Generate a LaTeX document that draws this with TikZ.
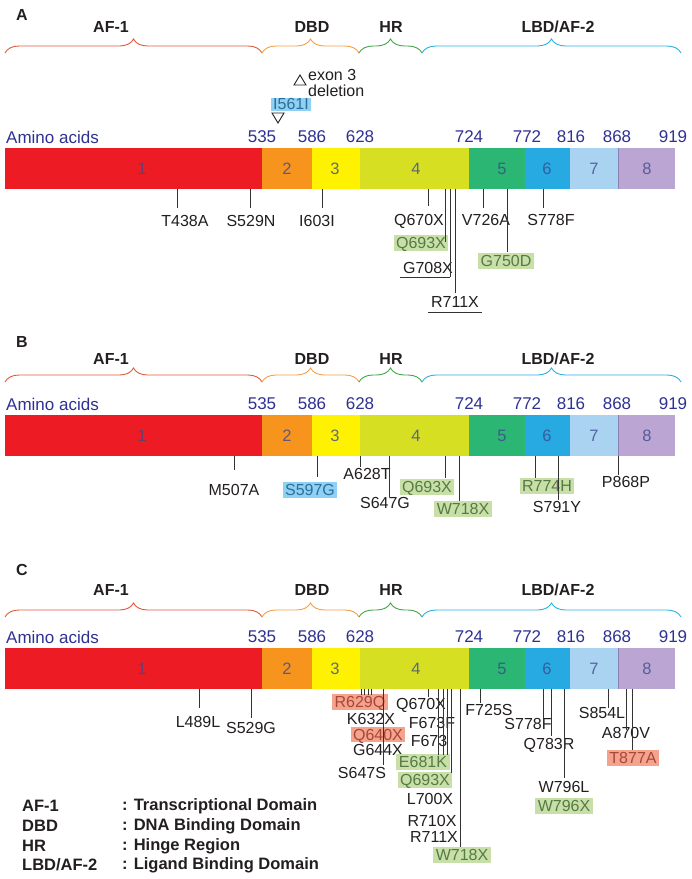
\documentclass[tikz,border=0pt]{standalone}
\usepackage{fontspec}
\setmainfont{Liberation Sans}
\usetikzlibrary{decorations.pathreplacing}
\definecolor{e1}{HTML}{ED1C24}
\definecolor{e2}{HTML}{F7941D}
\definecolor{e3}{HTML}{FFF200}
\definecolor{e4}{HTML}{D7DF23}
\definecolor{e5}{HTML}{2BB673}
\definecolor{e6}{HTML}{27AAE1}
\definecolor{e7}{HTML}{A9D3F1}
\definecolor{e8}{HTML}{BBA6D3}
\definecolor{e8line}{HTML}{8C80B8}
\definecolor{navy}{HTML}{2E3192}
\definecolor{segtxt}{HTML}{3C4A8C}
\definecolor{txt}{HTML}{231F20}
\definecolor{tickc}{HTML}{333333}
\definecolor{gfill}{HTML}{C8E0A8}
\definecolor{gtext}{HTML}{557A45}
\definecolor{bfill}{HTML}{8FD1F2}
\definecolor{btext}{HTML}{2B6E9C}
\definecolor{rfill}{HTML}{F4A38D}
\definecolor{rtext}{HTML}{A8463A}
\definecolor{bAF}{HTML}{E4593C}
\definecolor{bDBD}{HTML}{F4A146}
\definecolor{bHR}{HTML}{44A54A}
\definecolor{bLBD}{HTML}{2DB0E0}

\pgfdeclarelayer{fg}
\pgfsetlayers{main,fg}

\tikzset{
  lab/.style={font=\fontsize{16}{19}\selectfont, text=txt, inner xsep=2.5pt, inner ysep=2pt, text height=11.5pt, text depth=0.5pt},
  glab/.style={lab, fill=gfill, text=gtext},
  blab/.style={lab, fill=bfill, text=btext},
  rlab/.style={lab, fill=rfill, text=rtext},
  tick/.style={draw=tickc, line width=1pt},
  numlab/.style={font=\fontsize{17}{20}\selectfont, text=navy, inner sep=0pt},
  segnum/.style={font=\fontsize{16.5}{20}\selectfont, text=segtxt, text opacity=0.8, inner sep=0pt},
  ttl/.style={font=\bfseries\fontsize{16}{19}\selectfont, text=txt, inner sep=0pt},
  leg/.style={font=\bfseries\fontsize{16.5}{19}\selectfont, text=txt, inner sep=0pt},
  brc/.style={decorate, decoration={brace, amplitude=14pt}, line width=0.9pt},
  tri/.style={draw=txt, line width=0.9pt},
}

% name, bar bottom y, line x, line end y, style, label x, label y, text
\newcommand\mut[8]{%
  \node[#5] (#1) at (#6,#7) {#8};
  \coordinate (#1-s) at (#3,#2);
  \coordinate (#1-e) at (#3,#4);
  \begin{pgfonlayer}{fg}\draw[tick] (#1-s) -- (#1-e);\end{pgfonlayer}
}

\newcommand\protbar[2]{%
  \foreach \i/\xa/\xb/\lx in {1/5/262/142, 2/262/312/287, 3/312/360/335, 4/360/469/416, 5/469/525/502, 6/525/570/547, 7/570/618/594, 8/618/675/647}{
    \fill[e\i] (\xa,#2) rectangle (\xb,#2+41);
    \node[segnum] (#1seg\i) at (\lx,#2+20.5) {\i};
  }
  \draw[e8line, line width=0.7pt] (618,#2) -- (618,#2+41);
}

\newcommand\numrow[2]{%
  \node[numlab, anchor=west] (#1aa) at (6,#2) {Amino acids};
  \foreach \n/\xx in {535/262, 586/312, 628/360, 724/469, 772/527, 816/571, 868/617, 919/673}{
    \node[numlab] (#1n\n) at (\xx,#2) {\n};
  }
}

\newcommand\domains[3]{% prefix, title y, brace base y
  \node[ttl] (#1tAF) at (111,#2) {AF-1};
  \node[ttl] (#1tDBD) at (312,#2) {DBD};
  \node[ttl] (#1tHR) at (391,#2) {HR};
  \node[ttl] (#1tLBD) at (558,#2) {LBD/AF-2};
  \draw[brc, bAF] (5,#3) -- (262,#3);
  \draw[brc, bDBD] (262,#3) -- (359,#3);
  \draw[brc, bHR] (359,#3) -- (422,#3);
  \draw[brc, bLBD] (422,#3) -- (681,#3);
}

\begin{document}
\begin{tikzpicture}[x=1pt,y=-1pt]
\useasboundingbox (0,0) rectangle (692,879);
\fill[white] (0,0) rectangle (692,879);

% ---------------- Panel A ----------------
\node[ttl] (pA) at (22,15) {A};
\domains{a}{27}{53}
\draw[tri] (294,85) -- (306,85) -- (300,75) -- cycle;
\node[lab, anchor=west, inner sep=0pt] (aex1) at (308,74.5) {exon 3};
\node[lab, anchor=west, inner sep=0pt] (aex2) at (308,90.5) {deletion};
\node[blab, inner ysep=0.5pt] (aI561I) at (291,104) {I561I};
\draw[tri] (272,113) -- (284,113) -- (278,123) -- cycle;
\numrow{a}{137}
\protbar{a}{148}
\mut{aT438A}{189}{177}{208}{lab}{185}{221}{T438A}
\mut{aS529N}{189}{250}{208}{lab}{251}{221}{S529N}
\mut{aI603I}{189}{322}{208}{lab}{317}{221}{I603I}
\mut{aQ670X}{189}{428}{206}{lab}{419}{220}{Q670X}
\mut{aQ693X}{189}{445}{242}{glab}{421}{243}{Q693X}
\mut{aG708X}{189}{450}{277}{lab}{428}{268}{G708X}
\mut{aR711X}{189}{455}{293}{lab}{455}{302}{R711X}
\mut{aV726A}{189}{483}{208}{lab}{486}{220}{V726A}
\mut{aG750D}{189}{507}{252}{glab}{506}{261}{G750D}
\mut{aS778F}{189}{543}{208}{lab}{551}{220}{S778F}
\draw[tick] (aG708X.west |- aG708X-e) -- (aG708X-e);
\draw[tick] ([yshift=-2pt]aR711X.south west) -- ([yshift=-2pt]aR711X.south east);

% ---------------- Panel B ----------------
\node[ttl] (pB) at (22,342) {B};
\domains{b}{359}{382}
\numrow{b}{404}
\protbar{b}{415}
\mut{bM507A}{456}{234}{470}{lab}{234}{490}{M507A}
\mut{bS597G}{456}{317}{477}{blab}{310}{490}{S597G}
\mut{bA628T}{456}{360}{467}{lab}{367}{474}{A628T}
\mut{bS647G}{456}{389}{497}{lab}{385}{503}{S647G}
\mut{bQ693X}{456}{445}{478}{glab}{427}{487}{Q693X}
\mut{bW718X}{456}{459}{501}{glab}{463}{509}{W718X}
\mut{bR774H}{456}{535}{478}{glab}{547}{486}{R774H}
\mut{bS791Y}{456}{558}{500}{lab}{557}{507}{S791Y}
\mut{bP868P}{456}{618}{475}{lab}{626}{482}{P868P}

% ---------------- Panel C ----------------
\node[ttl] (pC) at (22,570) {C};
\domains{c}{590}{617}
\numrow{c}{637}
\protbar{c}{648}
\mut{cL489L}{689}{199}{708}{lab}{198}{722}{L489L}
\mut{cS529G}{689}{251}{718}{lab}{251}{728}{S529G}
\mut{cR629Q}{689}{361}{695}{rlab}{360}{702}{R629Q}
\mut{cK632X}{689}{364.5}{695}{lab}{371}{719}{K632X}
\mut{cQ640X}{689}{368}{695}{rlab, inner ysep=1.2pt}{378}{734.5}{Q640X}
\mut{cG644X}{689}{371.5}{695}{lab}{378}{750}{G644X}
\mut{cS647S}{689}{383}{765}{lab}{362}{773}{S647S}
\mut{cQ670X}{689}{428}{697}{lab}{421}{704}{Q670X}
\mut{cF673F}{689}{438}{755}{lab}{432}{723}{F673F}
\mut{cF673}{689}{443}{755}{lab}{429}{741}{F673}
\mut{cE681K}{689}{447}{755}{glab}{423}{762}{E681K}
\mut{cQ693X}{689}{451}{773}{glab}{425}{780}{Q693X}
\node[lab] (cL700X) at (430,799) {L700X};
\node[lab] (cR710X) at (432,821) {R710X};
\node[lab] (cR711X) at (434,837) {R711X};
\mut{cW718X}{689}{460}{847}{glab}{462}{855}{W718X}
\mut{cF725S}{689}{480}{703}{lab}{489}{710}{F725S}
\mut{cS778F}{689}{543}{718}{lab}{528}{724}{S778F}
\mut{cQ783R}{689}{551}{736}{lab}{549}{744}{Q783R}
\mut{cW796L}{689}{564}{778}{lab}{564}{787}{W796L}
\node[glab] (cW796X) at (564,806) {W796X};
\mut{cS854L}{689}{608}{708}{lab}{602}{713}{S854L}
\mut{cA870V}{689}{626}{730}{lab}{626}{733}{A870V}
\mut{cT877A}{689}{632}{750}{rlab}{633}{758}{T877A}

% ---------------- Legend ----------------
\node[leg, anchor=west] (lgA) at (22,806) {AF-1};
\node[leg, anchor=west] (lgAd) at (122,806) {: Transcriptional Domain};
\node[leg, anchor=west] (lgB) at (22,826) {DBD};
\node[leg, anchor=west] (lgBd) at (122,826) {: DNA Binding Domain};
\node[leg, anchor=west] (lgC) at (22,846) {HR};
\node[leg, anchor=west] (lgCd) at (122,846) {: Hinge Region};
\node[leg, anchor=west] (lgD) at (22,865) {LBD/AF-2};
\node[leg, anchor=west] (lgDd) at (122,865) {: Ligand Binding Domain};
\end{tikzpicture}
\end{document}
